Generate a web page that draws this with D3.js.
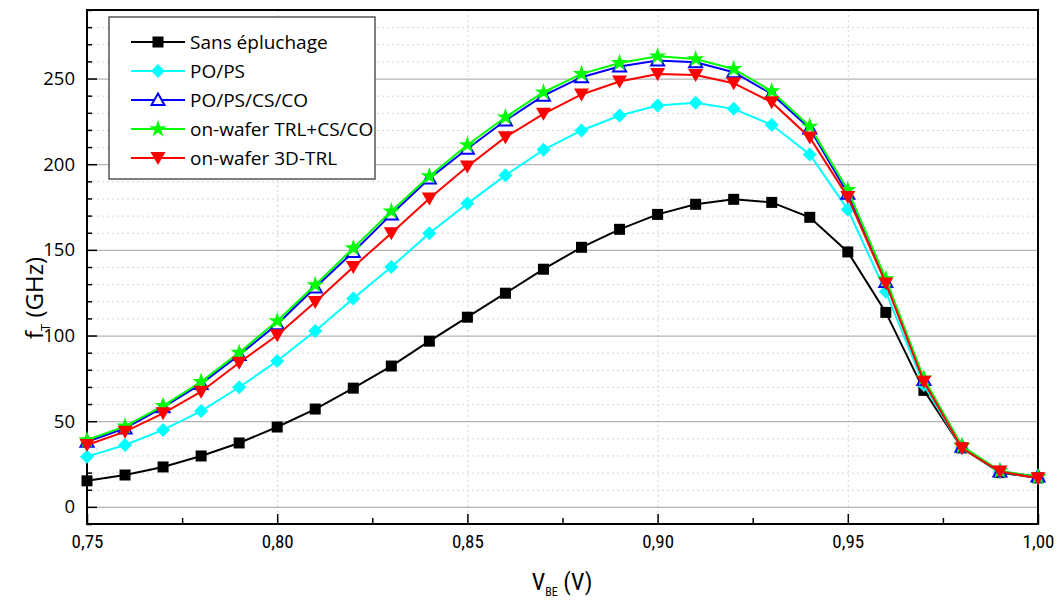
<!DOCTYPE html>
<html><head><meta charset="utf-8">
<script src="https://cdn.jsdelivr.net/npm/d3@7"></script>
<style>
body{margin:0;background:#fff;}
text{font-family:"Open Sans","Liberation Sans",sans-serif;}
.narrow{font-family:"Liberation Sans Narrow","Roboto Condensed","Liberation Sans",sans-serif;}
</style></head>
<body><svg id="c" width="1061" height="600"></svg>
<script>
const vbe = [0.75,0.76,0.77,0.78,0.79,0.80,0.81,0.82,0.83,0.84,0.85,0.86,0.87,0.88,0.89,0.90,0.91,0.92,0.93,0.94,0.95,0.96,0.97,0.98,0.99,1.00];
const sansEpluchage = [15.2,18.6,23.3,29.7,37.3,46.6,57.1,69.3,82.2,96.7,110.7,124.7,138.7,151.5,162,170.7,176.6,179.5,177.7,169,148.8,113.5,68,34.4,20,16.9];
const poPs = [29.3,36.1,44.9,55.9,69.8,85.1,102.6,121.6,140,159.7,177,193.5,208.4,219.7,228.4,234.3,235.8,232.3,223,205.7,173.5,125.5,71.1,34.4,20.4,17];
const poPsCsCo = [38,45.8,58.1,71.7,88.6,106.6,128,148.8,170.7,191.7,209,225.5,240,250.8,257,260.5,259.5,253.7,241,220.9,182.7,131.3,74,35.1,20.6,17.7];
const trlCsCo = [39,47,59,73,90,108.5,129.5,151,172.5,193,211.2,227.4,242,252.7,259.1,263,261.4,255.6,242.6,222,185,133,75,35.5,21,17.5];
const trl3D = [36.1,43.9,54.6,67.2,84.1,100.2,119.6,140,159.7,180,198.7,215.8,229.4,240.7,248.3,252.7,252.1,247.3,236.2,215.6,180.8,130.4,73,34.2,20.6,16.7];
const seriesNames = ["Sans épluchage","PO/PS","PO/PS/CS/CO","on-wafer TRL+CS/CO","on-wafer 3D-TRL"];
const xTickValues = [0.75,0.80,0.85,0.90,0.95,1.00];
const xMinorValues = [0.775,0.825,0.875,0.925,0.975];
const yTickValues = [0,50,100,150,200,250];

const series = [
 {name:seriesNames[0], vals:sansEpluchage, color:"#000000", sym:"square"},
 {name:seriesNames[1], vals:poPs, color:"#00FFFF", sym:"diamond"},
 {name:seriesNames[2], vals:poPsCsCo, color:"#0000FF", sym:"triangle"},
 {name:seriesNames[3], vals:trlCsCo, color:"#00FF00", sym:"star"},
 {name:seriesNames[4], vals:trl3D, color:"#FF0000", sym:"tridown"}
];

const L=87, R=1038, T=10, B=524;
const svg = d3.select("#c");
const x = d3.scaleLinear().domain([0.75,1.0]).range([L,R]);
const y = d3.scaleLinear().domain([-10,290]).range([B,T]);

// grid
const yMinor = d3.range(-10,291,10).filter(v=>v%50!==0);
svg.append("g").selectAll("line").data(yMinor).join("line")
 .attr("x1",L).attr("x2",R).attr("y1",d=>y(d)+0.5).attr("y2",d=>y(d)+0.5)
 .attr("stroke","#d4d4d4").attr("stroke-width",1).attr("stroke-dasharray","2,3");
svg.append("g").selectAll("line").data(xTickValues.slice(1,-1)).join("line")
 .attr("x1",d=>x(d)+0.5).attr("x2",d=>x(d)+0.5).attr("y1",T).attr("y2",B)
 .attr("stroke","#d4d4d4").attr("stroke-width",1).attr("stroke-dasharray","2,3");
svg.append("g").selectAll("line").data(yTickValues).join("line")
 .attr("x1",L).attr("x2",R).attr("y1",d=>y(d)+0.5).attr("y2",d=>y(d)+0.5)
 .attr("stroke","#b4b4b4").attr("stroke-width",1.2);

// axes
const fmt = d3.format(".2f");
const gx = svg.append("g").attr("transform",`translate(0,${B})`)
 .call(d3.axisBottom(x).tickValues(xTickValues).tickSize(-10).tickPadding(11).tickFormat(d=>fmt(d).replace(".",",")));
svg.append("g").attr("transform",`translate(0,${B})`)
 .call(d3.axisBottom(x).tickValues(xMinorValues).tickSize(-6).tickFormat(""))
 .call(g=>g.select(".domain").remove());
const gy = svg.append("g").attr("transform",`translate(${L},0)`)
 .call(d3.axisLeft(y).tickValues(yTickValues).tickSize(-10).tickPadding(12));
svg.append("g").attr("transform",`translate(${L},0)`)
 .call(d3.axisLeft(y).tickValues(yMinor).tickSize(-5).tickFormat(""))
 .call(g=>g.select(".domain").remove());
svg.selectAll(".tick line").attr("stroke","#000").attr("stroke-width",1.5);
svg.selectAll(".domain").remove();
gx.selectAll("text").attr("class","narrow").attr("font-size",19).attr("fill","#000");
gy.selectAll("text").attr("font-size",18.5).attr("fill","#000");

// frame
svg.append("rect").attr("x",L).attr("y",T).attr("width",R-L).attr("height",B-T)
 .attr("fill","none").attr("stroke","#000").attr("stroke-width",2);

// symbols
function sym(g, type, color){
  if(type==="square"){ g.append("rect").attr("x",-5.5).attr("y",-5.5).attr("width",11).attr("height",11).attr("fill",color); }
  else if(type==="diamond"){ g.append("path").attr("d","M0,-7L7,0L0,7L-7,0Z").attr("fill",color); }
  else if(type==="triangle"){ g.append("path").attr("d","M0,-6.5L6.5,5L-6.5,5Z").attr("fill","#fff").attr("stroke",color).attr("stroke-width",2); }
  else if(type==="tridown"){ g.append("path").attr("d","M-7.5,-6L7.5,-6L0,7Z").attr("fill",color); }
  else if(type==="star"){ g.append("path").attr("d",d3.symbol(d3.symbolStar,95)()).attr("fill",color); }
}

const line = d3.line().x((d,i)=>x(vbe[i])).y(d=>y(d));
series.forEach(s=>{
  const g = svg.append("g");
  g.append("path").attr("d",line(s.vals)).attr("fill","none").attr("stroke",s.color).attr("stroke-width",2);
  s.vals.forEach((v,i)=>{
    const mg = g.append("g").attr("transform",`translate(${x(vbe[i])},${y(v)})`);
    sym(mg,s.sym,s.color);
  });
});

// legend
const lg = svg.append("g");
lg.append("rect").attr("x",109).attr("y",17).attr("width",266).attr("height",162)
 .attr("fill","#fff").attr("stroke","#555").attr("stroke-width",1.5);
series.forEach((s,i)=>{
  const cy = 42 + i*29;
  lg.append("line").attr("x1",131).attr("x2",185).attr("y1",cy).attr("y2",cy).attr("stroke",s.color).attr("stroke-width",2);
  const mg = lg.append("g").attr("transform",`translate(158,${cy})`);
  sym(mg,s.sym,s.color);
  lg.append("text").attr("x",190).attr("y",cy).attr("dy","0.35em").attr("font-size",19).attr("fill","#000").text(s.name);
});

// axis titles
const yt = svg.append("text").attr("transform","translate(43,298) rotate(-90)").attr("text-anchor","middle").attr("font-size",24).attr("fill","#000");
yt.append("tspan").text("f");
yt.append("tspan").attr("font-size",13).attr("dy",7).text("T");
yt.append("tspan").attr("dy",-7).text(" (GHz)");
const xt = svg.append("text").attr("class","narrow").attr("x",562).attr("y",590).attr("text-anchor","middle").attr("font-size",24).attr("fill","#000");
xt.append("tspan").text("V");
xt.append("tspan").attr("font-size",12).attr("dy",6).text("BE");
xt.append("tspan").attr("dy",-6).text(" (V)");
</script></body></html>
